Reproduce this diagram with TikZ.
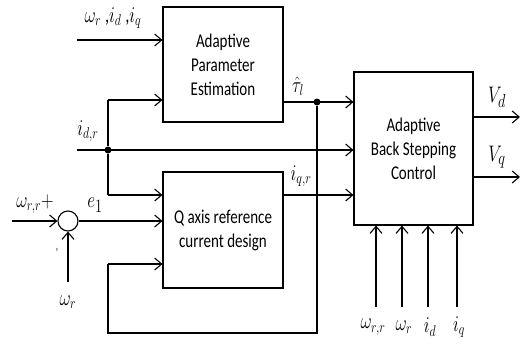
\documentclass[tikz,border=0pt]{standalone}
\usepackage{fontspec}
\setmainfont{Carlito}
\usepackage{graphicx}
\usetikzlibrary{arrows.meta}
\newcommand{\vs}[1]{\scalebox{1}[1.3]{#1}}
\begin{document}
\begin{tikzpicture}[x=1pt,y=-1pt,
  blk/.style={draw,line width=1.1pt,inner sep=0pt,align=center,font=\fontsize{15}{24}\selectfont},
  ln/.style={line width=1.1pt},
  arr/.style={line width=1.1pt,-{Straight Barb[length=7pt,width=12pt,line width=1.1pt]}},
  lab/.style={inner sep=0pt,font=\fontsize{16.5}{18}\selectfont},
  dotn/.style={circle,fill,inner sep=0pt,minimum size=7pt}]
\useasboundingbox (0,0) rectangle (526,346);
\fill[white] (0,0) rectangle (526,346);
% blocks
\node[blk,minimum width=120pt,minimum height=115pt] (ape) at (223,64.5)
  {\vs{Adaptive}\\\vs{Parameter}\\\vs{Estimation}};
\node[blk,minimum width=120pt,minimum height=116pt] (q) at (223,230)
  {\vs{Q axis reference}\\\vs{current design}};
\node[blk,minimum width=119pt,minimum height=153pt] (absc) at (413.5,148.5)
  {\vs{Adaptive}\\\vs{Back Stepping}\\\vs{Control}};
\node[draw,circle,line width=1.1pt,minimum size=20pt,inner sep=0pt] (s) at (68,221) {};
% coordinates
\coordinate (in1) at (77,40);
\coordinate (in2) at (77,150);
\coordinate (in3) at (12,221);
\coordinate (in4) at (68,282);
\node[dotn] (j1) at (108,150) {};
\node[dotn] (j2) at (317,102) {};
\coordinate (a1) at (108,100);
\coordinate (a2) at (108,195);
\coordinate (f1) at (317,333);
\coordinate (f2) at (108,333);
\coordinate (f3) at (108,264);
\coordinate (o1) at (520,117);
\coordinate (o2) at (520,177);
\coordinate (b1) at (376,307);
\coordinate (b2) at (402,307);
\coordinate (b3) at (428,307);
\coordinate (b4) at (457,307);
% connectors
\draw[arr] (in1) -- (in1 -| ape.west);
\draw[arr] (in2) -- (in2 -| absc.west);
\draw[ln] (j1) -- (a1);
\draw[arr] (a1) -- (a1 -| ape.west);
\draw[ln] (j1) -- (a2);
\draw[arr] (a2) -- (a2 -| q.west);
\draw[arr] (in3) -- (s.west);
\draw[arr] (in4) -- (s.south);
\draw[arr] (s.east) -- (s.east -| q.west);
\draw[arr] (j2 -| ape.east) -- (j2 -| absc.west);
\draw[ln] (j2) -- (f1) -- (f2) -- (f3);
\draw[arr] (f3) -- (f3 -| q.west);
\draw[arr] (a2 -| q.east) -- (a2 -| absc.west);
\draw[arr] (o1 -| absc.east) -- (o1);
\draw[arr] (o2 -| absc.east) -- (o2);
\draw[arr] (b1) -- (b1 |- absc.south);
\draw[arr] (b2) -- (b2 |- absc.south);
\draw[arr] (b3) -- (b3 |- absc.south);
\draw[arr] (b4) -- (b4 |- absc.south);
% labels
\node[lab] (l1) at (113,18) {\vs{$\omega_r$ ,$i_d$ ,$i_q$}};
\node[lab] (l2) at (88,131) {\vs{$i_{d,r}$}};
\node[lab] (l3) at (35,204) {\vs{$\omega_{r,r}{+}$}};
\node[lab] (l4) at (95,205) {\vs{\fontsize{19}{20}\selectfont$e_1$}};
\node[lab] (l5) at (68,302) {\vs{$\omega_r$}};
\node[lab] (l6) at (57,252) {\vs{\fontsize{9}{10}\selectfont'}};
\node[lab] (l7) at (298,86) {\vs{$\hat{\tau}_l$}};
\node[lab] (l8) at (301,176) {\vs{$i_{q,r}$}};
\node[lab] (l9) at (497,97) {\vs{\fontsize{19}{20}\selectfont$V_d$}};
\node[lab] (l10) at (497,157) {\vs{\fontsize{19}{20}\selectfont$V_q$}};
\node[lab] (l11) at (373,327) {\vs{$\omega_{r,r}$}};
\node[lab] (l12) at (404,327) {\vs{$\omega_r$}};
\node[lab] (l13) at (430,327) {\vs{$i_d$}};
\node[lab] (l14) at (459,327) {\vs{$i_q$}};
\end{tikzpicture}
\end{document}
